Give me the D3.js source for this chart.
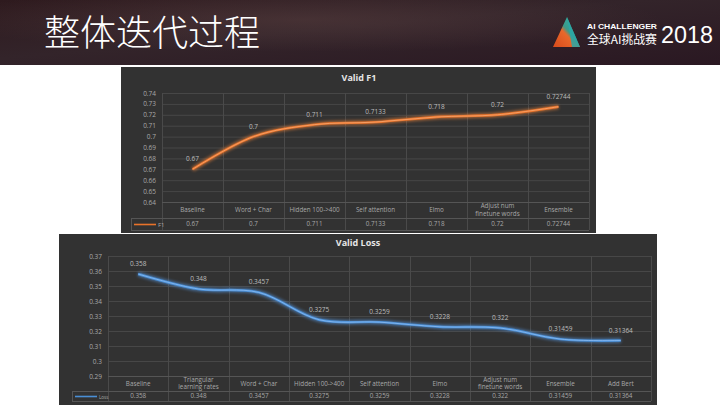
<!DOCTYPE html>
<html><head><meta charset="utf-8">
<script src="https://cdn.jsdelivr.net/npm/d3@7"></script>
<style>
html,body{margin:0;padding:0;background:#fff;}
svg{display:block;}
</style></head>
<body>
<svg id="c" width="720" height="405"></svg>
<script>
const f1Categories = ["Baseline", "Word + Char", "Hidden 100->400", "Self attention", "Elmo", "Adjust num\nfinetune words", "Ensemble"];
const f1Values = [0.67, 0.7, 0.711, 0.7133, 0.718, 0.72, 0.72744];
const f1Labels = ["0.67", "0.7", "0.711", "0.7133", "0.718", "0.72", "0.72744"];
const f1Ticks = [0.64, 0.65, 0.66, 0.67, 0.68, 0.69, 0.7, 0.71, 0.72, 0.73, 0.74];

const lossCategories = ["Baseline", "Triangular\nlearning rates", "Word + Char", "Hidden 100->400", "Self attention", "Elmo", "Adjust num\nfinetune words", "Ensemble", "Add Bert"];
const lossValues = [0.358, 0.348, 0.3457, 0.3275, 0.3259, 0.3228, 0.322, 0.31459, 0.31364];
const lossLabels = ["0.358", "0.348", "0.3457", "0.3275", "0.3259", "0.3228", "0.322", "0.31459", "0.31364"];
const lossTicks = [0.29, 0.3, 0.31, 0.32, 0.33, 0.34, 0.35, 0.36, 0.37];

const svg = d3.select("#c");
const defs = svg.append("defs");

// Header
const hg = defs.append("linearGradient").attr("id", "hdr").attr("x1", 0).attr("x2", 1).attr("y1", 0).attr("y2", 1);
hg.append("stop").attr("offset", "0%").attr("stop-color", "#2e1a1e");
hg.append("stop").attr("offset", "45%").attr("stop-color", "#33242a");
hg.append("stop").attr("offset", "100%").attr("stop-color", "#2a1822");
svg.append("rect").attr("x", 0).attr("y", 0).attr("width", 720).attr("height", 65).attr("fill", "url(#hdr)");
const rg = defs.append("radialGradient").attr("id", "hglow").attr("cx", 0.42).attr("cy", 0.3).attr("r", 0.5);
rg.append("stop").attr("offset", "0%").attr("stop-color", "#5a4040").attr("stop-opacity", 0.5);
rg.append("stop").attr("offset", "100%").attr("stop-color", "#5a4040").attr("stop-opacity", 0);
svg.append("rect").attr("x", 0).attr("y", 0).attr("width", 720).attr("height", 65).attr("fill", "url(#hglow)");

svg.append("text").attr("x", 44).attr("y", 46)
  .attr("font-family", "'Noto Sans CJK SC'").attr("font-weight", 300).attr("font-size", 36)
  .attr("fill", "#ffffff").text("整体迭代过程");

// Logo
const tg = defs.append("linearGradient").attr("id", "tri").attr("x1", 1).attr("x2", 0).attr("y1", 0).attr("y2", 1);
tg.append("stop").attr("offset", "0%").attr("stop-color", "#2fb8b0");
tg.append("stop").attr("offset", "45%").attr("stop-color", "#3a9a8a");
tg.append("stop").attr("offset", "55%").attr("stop-color", "#e8682a");
tg.append("stop").attr("offset", "100%").attr("stop-color", "#d84a1c");
svg.append("path").attr("d", "M567,17 L553,47 L580,47 Z").attr("fill", "url(#tri)");
svg.append("path").attr("d", "M567,17 L572,47 L580,47 Z").attr("fill", "#2aa7a6").attr("opacity", 0.85);
svg.append("text").attr("x", 587).attr("y", 28.5).attr("font-family", "'Liberation Sans'").attr("font-weight", "bold")
  .attr("font-size", 7.5).attr("fill", "#fff").attr("textLength", 70).attr("lengthAdjust", "spacingAndGlyphs").text("AI CHALLENGER");
svg.append("text").attr("x", 587).attr("y", 44).attr("font-family", "'Noto Sans CJK SC'")
  .attr("font-size", 12).attr("fill", "#fff").attr("textLength", 70).attr("lengthAdjust", "spacingAndGlyphs").text("全球AI挑战赛");
svg.append("text").attr("x", 661).attr("y", 43).attr("font-family", "'Liberation Sans'")
  .attr("font-size", 24).attr("fill", "#fff").attr("textLength", 52).attr("lengthAdjust", "spacingAndGlyphs").text("2018");

const f = defs.append("filter").attr("id", "blur").attr("x", "-10%").attr("y", "-50%").attr("width", "120%").attr("height", "200%");
f.append("feGaussianBlur").attr("stdDeviation", 1.5);

function drawChart(o) {
  const g = svg.append("g");
  g.append("rect").attr("x", o.panel[0]).attr("y", o.panel[1]).attr("width", o.panel[2]).attr("height", o.panel[3]).attr("fill", "#323232");
  const x = d3.scaleBand().domain(o.cats.map((d, i) => i)).range([o.left, o.right]);
  const y = d3.scaleLinear().domain([o.ticks[0], o.ticks[o.ticks.length - 1]]).range([o.bottom, o.top]);
  const bw = x.bandwidth();
  g.append("text").attr("x", o.titleX).attr("y", o.titleY).attr("text-anchor", "middle")
    .attr("font-family", "'Open Sans', 'DejaVu Sans'").attr("font-weight", "bold").attr("font-size", 9)
    .attr("fill", "#e6e6e6").text(o.title);
  g.selectAll(".hg").data(o.ticks).enter().append("line")
    .attr("x1", o.left).attr("x2", o.right).attr("y1", d => y(d) + 0.5).attr("y2", d => y(d) + 0.5)
    .attr("stroke", "#474747").attr("stroke-width", 1);
  const ax = d3.axisLeft(y).tickValues(o.ticks).tickSize(0).tickPadding(0).tickFormat(d => String(+d.toFixed(2)));
  const ag = g.append("g").attr("transform", `translate(${o.tickX},0)`).call(ax);
  ag.select(".domain").remove();
  ag.selectAll("text").attr("fill", "#a8a8a8").attr("font-size", 6.5).attr("font-family", "'Open Sans', 'DejaVu Sans'");
  const tb = o.tableBottom, tm = o.tableMid;
  const bounds = d3.range(o.cats.length + 1).map(i => o.left + i * bw);
  g.selectAll(".vg").data(bounds).enter().append("line")
    .attr("x1", d => Math.round(d) + 0.5).attr("x2", d => Math.round(d) + 0.5)
    .attr("y1", o.top).attr("y2", tb).attr("stroke", "#4a4a4a");
  [o.bottom, tm, tb].forEach((yy, k) => {
    g.append("line").attr("x1", k === 0 ? o.left : o.legendX).attr("x2", o.right)
      .attr("y1", yy + 0.5).attr("y2", yy + 0.5).attr("stroke", "#555");
  });
  g.append("line").attr("x1", o.legendX + 0.5).attr("x2", o.legendX + 0.5).attr("y1", tm).attr("y2", tb).attr("stroke", "#555");
  o.cats.forEach((c, i) => {
    const lines = c.split("\n");
    const cy = (o.bottom + tm) / 2;
    const t = g.append("text").attr("text-anchor", "middle").attr("font-family", "'Open Sans', 'DejaVu Sans'")
      .attr("font-size", 6.3).attr("fill", "#a8a8a8");
    lines.forEach((l, j) => {
      t.append("tspan").attr("x", x(i) + bw / 2).attr("y", cy + 2.2 + (j - (lines.length - 1) / 2) * 7.5).text(l);
    });
    g.append("text").attr("x", x(i) + bw / 2).attr("y", (tm + tb) / 2 + 2.3).attr("text-anchor", "middle")
      .attr("font-family", "'Open Sans', 'DejaVu Sans'").attr("font-size", 6.3).attr("fill", "#a8a8a8").text(o.labels[i]);
  });
  const ly = (tm + tb) / 2 + 0.5;
  g.append("line").attr("x1", o.legendX + 3).attr("x2", o.legendX + 3 + o.legendLen).attr("y1", ly).attr("y2", ly)
    .attr("stroke", o.color).attr("stroke-width", 1.6);
  g.append("text").attr("x", o.legendX + 5 + o.legendLen).attr("y", ly + 2).attr("font-family", "'Open Sans', 'DejaVu Sans'")
    .attr("font-size", o.legendFont).attr("fill", "#a8a8a8").text(o.series);
  const line = d3.line().x((d, i) => x(i) + bw / 2).y(d => y(d)).curve(d3.curveCatmullRom.alpha(0.5));
  g.append("path").attr("d", line(o.values)).attr("fill", "none").attr("stroke", o.glow).attr("stroke-width", 4.5)
    .attr("opacity", 0.55).attr("filter", "url(#blur)");
  g.append("path").attr("d", line(o.values)).attr("fill", "none").attr("stroke", o.color).attr("stroke-width", 2.4);
  g.append("path").attr("d", line(o.values)).attr("fill", "none").attr("stroke", o.core).attr("stroke-width", 0.8).attr("opacity", 0.7);
  g.selectAll(".dl").data(o.values).enter().append("text")
    .attr("x", (d, i) => x(i) + bw / 2).attr("y", d => y(d) - o.labelOff).attr("text-anchor", "middle")
    .attr("font-family", "'Open Sans', 'DejaVu Sans'").attr("font-size", 6.5).attr("fill", "#bdbdbd")
    .text((d, i) => o.labels[i]);
}

drawChart({
  panel: [121, 67, 475, 166], title: "Valid F1", titleX: 359, titleY: 81,
  cats: f1Categories, values: f1Values, labels: f1Labels, ticks: f1Ticks,
  left: 162, right: 589, top: 93, bottom: 202, tableMid: 218, tableBottom: 230,
  tickX: 156, legendX: 131, legendLen: 22, legendFont: 6, series: "F1",
  color: "#e8722a", glow: "#ff8a3a", core: "#ffc090", labelOff: 8
});

drawChart({
  panel: [59, 234, 598, 171], title: "Valid Loss", titleX: 358, titleY: 246,
  cats: lossCategories, values: lossValues, labels: lossLabels, ticks: lossTicks,
  left: 108, right: 651, top: 256, bottom: 376, tableMid: 391, tableBottom: 401,
  tickX: 102, legendX: 72, legendLen: 22, legendFont: 4.5, series: "Loss",
  color: "#4a8fd6", glow: "#5aa0f0", core: "#a8d0ff", labelOff: 8
});
</script>
</body></html>
